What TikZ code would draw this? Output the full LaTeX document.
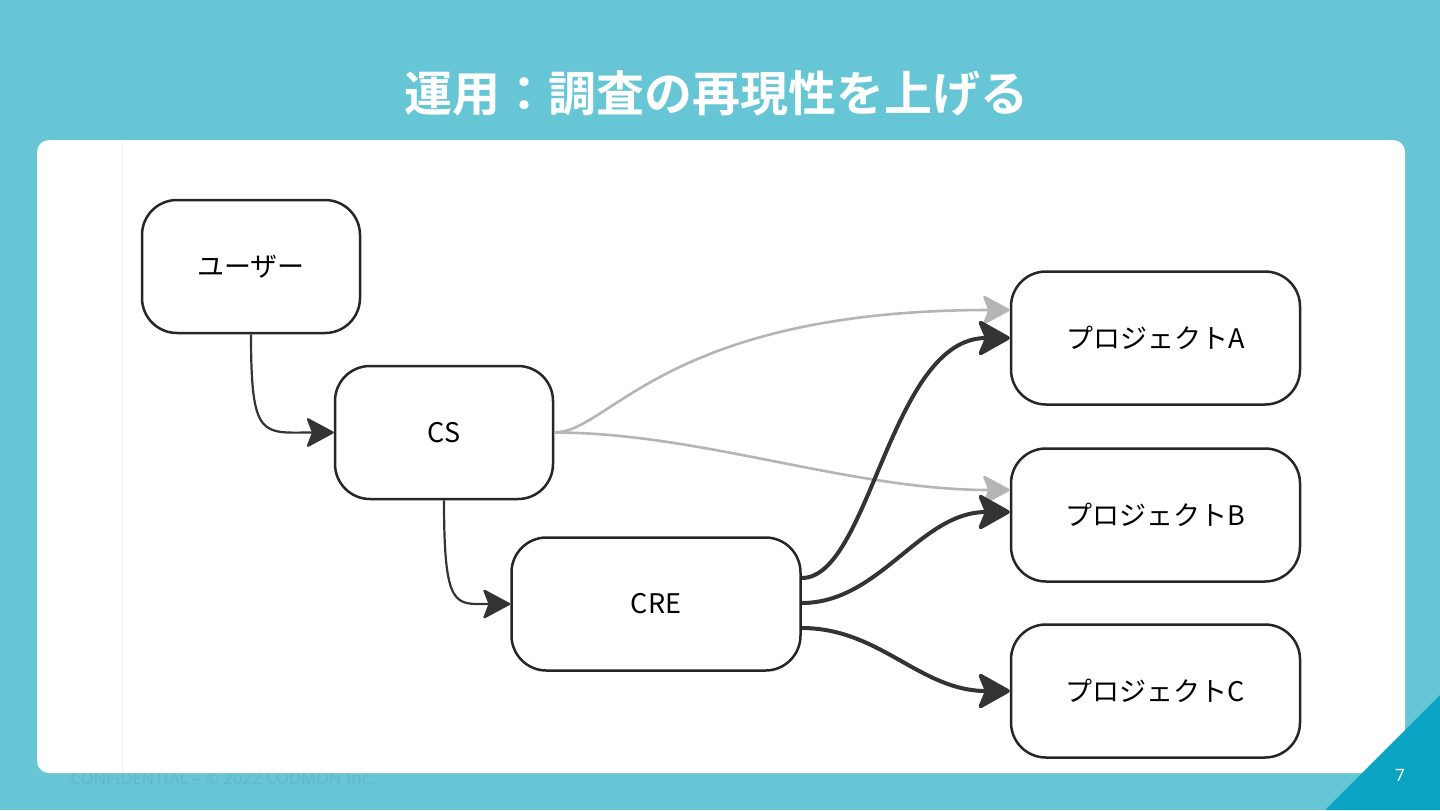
\documentclass[tikz,border=0pt]{standalone}
\usepackage{fontspec}
\setmainfont{Noto Sans}
\newfontfamily\cjk{Noto Sans CJK JP}[BoldFont={Noto Sans CJK JP Bold}]
\usetikzlibrary{arrows.meta,calc}
\definecolor{bgteal}{HTML}{67C6D6}
\definecolor{cornerteal}{HTML}{0AA3C2}
\definecolor{footc}{HTML}{5CBACB}
\definecolor{edgedark}{HTML}{333333}
\definecolor{edgegray}{HTML}{B5B5B5}
\definecolor{sepline}{HTML}{EEEEEE}
\tikzset{
  box/.style={draw=black!85, line width=1.25pt, fill=white, rounded corners=17.5pt,
    minimum height=66.5pt, inner sep=0pt, font=\cjk\fontsize{13.5}{16}\selectfont},
  smallbox/.style={box, minimum width=109pt},
  widebox/.style={box, minimum width=144.5pt},
  thinarr/.style={draw=edgedark, line width=1.1pt, -{Stealth[length=14.5pt,width=15.5pt,inset=3pt,round]}},
  grayarr/.style={draw=edgegray, line width=1.3pt, -{Stealth[length=14.5pt,width=15.5pt,inset=3pt,round]}},
  thickarr/.style={draw=edgedark, line width=2pt, -{Stealth[length=17.5pt,width=19.5pt,inset=4pt,round]}},
}
\begin{document}
\begin{tikzpicture}[x=0.5pt,y=-0.5pt]
\useasboundingbox (0,0) rectangle (1440,810);
\fill[bgteal] (0,0) rectangle (1440,810);
\node[anchor=west, text=footc, font=\fontsize{8.3}{10}\selectfont, inner sep=0pt] (footer) at (70,779) {CONFIDENTIAL – © 2022 CODMON Inc.};
\fill[white, rounded corners=6pt] (37,140) rectangle (1405,773);
\fill[cornerteal] (1440,695) -- (1440,810) -- (1325,810) -- cycle;
\draw[sepline, line width=0.5pt] (122,142) -- (122,772);
\node[text=white, font=\cjk\bfseries\fontsize{24}{28}\selectfont, inner sep=0pt] (title) at (716,93) {運用：調査の再現性を上げる};
\node[text=white, font=\fontsize{8.5}{10}\selectfont, inner sep=0pt] (pagenum) at (1400,775) {7};

\node[smallbox] (user) at (251,266.5) {ユーザー};
\node[smallbox] (cs) at (444,432.5) {CS};
\node[widebox] (cre) at (656,604) {CRE};
\node[widebox] (pa) at (1155.5,338) {プロジェクトA};
\node[widebox] (pb) at (1155.5,515) {プロジェクトB};
\node[widebox] (pc) at (1155.5,691) {プロジェクトC};

\draw[thinarr] (user.south) .. controls (251,440) and (262,432.5) .. (cs.west);
\draw[thinarr] (cs.south) .. controls (444,610) and (455,604) .. (cre.west);
\draw[grayarr] (cs.east) .. controls (610,432.5) and (665,310) .. ($(pa.west)+(0,-28)$);
\draw[grayarr] (cs.east) .. controls (700,432.5) and (850,490) .. ($(pb.west)+(0,-25)$);
\draw[thickarr] ($(cre.east)+(0,-26)$) .. controls (870,578) and (890,338) .. (pa.west);
\draw[thickarr] ($(cre.east)+(0,-1)$) .. controls (880,603) and (920,512) .. ($(pb.west)+(0,-3)$);
\draw[thickarr] ($(cre.east)+(0,24)$) .. controls (880,628) and (920,691) .. (pc.west);
\end{tikzpicture}
\end{document}
